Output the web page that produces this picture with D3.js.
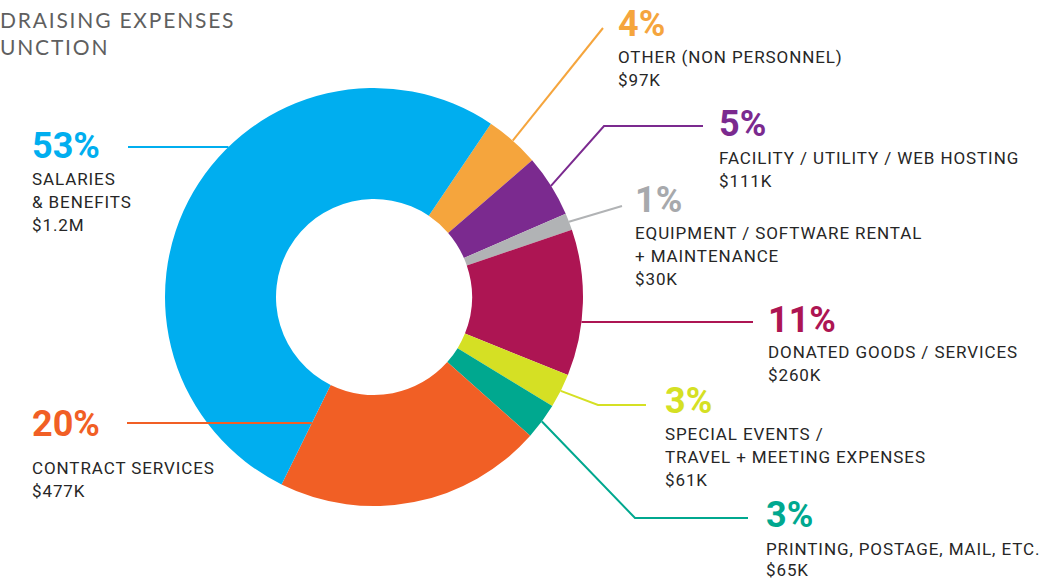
<!DOCTYPE html>
<html>
<meta charset="utf-8">
<style>
  body { margin: 0; background: #fff; }
  svg { display: block; }
</style>
<body>
<script src="https://d3js.org/d3.v7.min.js"></script>
<script>
  const width = 1062, height = 581;

  // data, clockwise from the "other" slice
  const values = [97, 111, 30, 260, 61, 65, 477, 1200];
  const percents = ["4%", "5%", "1%", "11%", "3%", "3%", "20%", "53%"];
  const amounts = ["$97K", "$111K", "$30K", "$260K", "$61K", "$65K", "$477K", "$1.2M"];
  const names = [
    ["OTHER (NON PERSONNEL)"],
    ["FACILITY / UTILITY / WEB HOSTING"],
    ["EQUIPMENT / SOFTWARE RENTAL", "+ MAINTENANCE"],
    ["DONATED GOODS / SERVICES"],
    ["SPECIAL EVENTS /", "TRAVEL + MEETING EXPENSES"],
    ["PRINTING, POSTAGE, MAIL, ETC."],
    ["CONTRACT SERVICES"],
    ["SALARIES", "& BENEFITS"]
  ];
  const colors = ["#F5A53D", "#7B2A8F", "#B1B3B5", "#AD1553", "#D5E024", "#00A88F", "#F15F25", "#00AEEF"];
  const titleLines = ["DRAISING EXPENSES", "UNCTION"];

  // layout of the donut and its callouts
  const cx = 374, cy = 297, R = 209, r0 = 98;
  const startDeg = 34;
  const lineH = 23;
  const callouts = [
    {x: 618, y: 36, gap: 27, pts: [[603, 28]]},
    {x: 719, y: 136, gap: 28, pts: [[604, 126], [703, 126]]},
    {x: 635, y: 212, gap: 27, pts: [[622, 206]]},
    {x: 768, y: 332, gap: 26, hy: 322, pts: [[753, 322]]},
    {x: 665, y: 413, gap: 27, pts: [[598, 405], [646, 405]]},
    {x: 766, y: 527, gap: 28, lh: 21, pts: [[635, 518], [748, 518]]},
    {x: 32, y: 436, gap: 38, hy: 423, toBoundary: true, pts: [[127, 423]]},
    {x: 32, y: 158, gap: 27, hy: 147, pts: [[128, 147]]}
  ];

  const svg = d3.select("body").append("svg")
    .attr("width", width)
    .attr("height", height);

  // title (cut off on the left in the original)
  svg.append("g")
    .selectAll("text")
    .data(titleLines)
    .join("text")
      .attr("x", 0)
      .attr("y", (d, i) => 28 + i * 27)
      .attr("fill", "#5f5f5f")
      .style("font", "400 21px Lato, sans-serif")
      .style("letter-spacing", "1.8px")
      .text(d => d);

  const a0 = startDeg * Math.PI / 180;
  const pie = d3.pie().sort(null).value(d => d)
    .startAngle(a0).endAngle(a0 + 2 * Math.PI);
  const arcs = pie(values);
  const arc = d3.arc().innerRadius(r0).outerRadius(R);

  const g = svg.append("g").attr("transform", `translate(${cx},${cy})`);
  g.selectAll("path")
    .data(arcs)
    .join("path")
      .attr("d", arc)
      .attr("fill", (d, i) => colors[i]);

  // start point of each leader line on its slice
  function leaderStart(d, c) {
    if (c.hy !== undefined) {
      const dy = c.hy - cy;
      if (c.toBoundary) {
        const a = d.endAngle;
        const t = dy / -Math.cos(a);
        return [cx + t * Math.sin(a), c.hy];
      }
      const dx = Math.sqrt(R * R - dy * dy);
      return [c.pts[0][0] < cx ? cx - dx : cx + dx, c.hy];
    }
    const m = (d.startAngle + d.endAngle) / 2;
    return [cx + R * Math.sin(m), cy - R * Math.cos(m)];
  }

  const line = d3.line();
  svg.append("g")
    .selectAll("path")
    .data(arcs)
    .join("path")
      .attr("d", (d, i) => line([leaderStart(d, callouts[i]), ...callouts[i].pts]))
      .attr("fill", "none")
      .attr("stroke", (d, i) => colors[i])
      .attr("stroke-width", 2);

  const labels = svg.append("g")
    .selectAll("g")
    .data(arcs)
    .join("g")
      .attr("transform", (d, i) => `translate(${callouts[i].x},${callouts[i].y})`);

  labels.append("text")
    .attr("fill", (d, i) => i === 2 ? "#A7A9AC" : colors[i])
    .style("font", "700 36px Roboto, sans-serif")
    .text((d, i) => percents[i]);

  labels.each(function(d, i) {
    const c = callouts[i];
    const lines = names[i].concat([amounts[i]]);
    d3.select(this).selectAll("text.lab")
      .data(lines)
      .join("text")
        .attr("class", "lab")
        .attr("y", (t, j) => c.gap + j * (c.lh || lineH))
        .attr("fill", "#262626")
        .style("font", "400 17px Roboto, sans-serif")
        .style("letter-spacing", "0.9px")
        .text(t => t);
  });
</script>
</body>
</html>
